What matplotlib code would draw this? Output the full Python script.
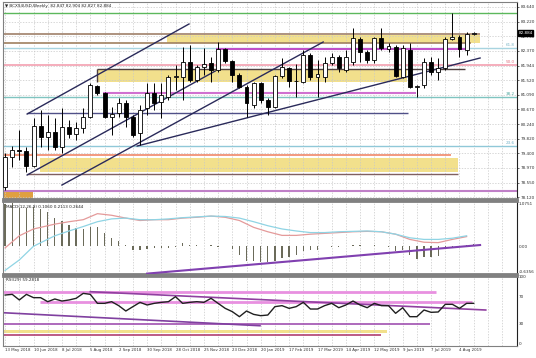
import numpy as np
import matplotlib.pyplot as plt

# weekly candles, 13 May 2018 .. 11 Aug 2019 (+ current bar)
opens = [78.41, 79.28, 79.49, 79.46, 79.02, 80.18, 79.87, 80.01, 79.57, 80.15,
         79.95, 80.12, 80.44, 81.35, 81.14, 80.44, 80.56, 80.85, 80.44, 79.98,
         80.71, 81.14, 80.88, 81.03, 81.61, 81.61, 82.04, 81.52, 81.90, 82.01,
         81.81, 82.42, 82.07, 81.66, 81.32, 80.79, 81.43, 80.94, 80.73, 81.64,
         81.87, 81.49, 81.46, 82.25, 81.61, 81.61, 82.01, 82.19, 81.81, 82.04,
         82.71, 82.33, 82.10, 82.74, 82.42, 82.48, 81.61, 82.39, 81.32, 81.37,
         82.04, 81.75, 81.87, 82.71, 82.77, 82.39, 82.847]
highs = [79.40, 79.60, 80.07, 79.57, 80.42, 80.65, 80.50, 80.42, 80.71, 80.36,
         80.30, 80.71, 81.43, 81.37, 81.17, 80.73, 81.00, 80.94, 80.50, 80.79,
         81.43, 81.43, 81.43, 81.66, 81.96, 82.48, 82.54, 81.96, 82.45, 82.19,
         82.62, 82.45, 82.10, 81.72, 81.37, 81.46, 81.46, 81.00, 81.66, 82.16,
         81.90, 81.98, 82.39, 82.30, 82.10, 82.19, 82.30, 82.25, 82.39, 83.03,
         82.77, 82.39, 82.77, 83.03, 82.59, 82.54, 82.54, 82.59, 81.37, 82.16,
         82.19, 82.16, 82.77, 83.47, 82.83, 82.91, 82.904]
lows = [78.32, 78.99, 79.20, 78.85, 78.99, 79.57, 79.49, 79.49, 79.40, 79.83,
        79.78, 79.98, 80.42, 81.08, 80.42, 79.92, 80.44, 80.15, 79.87, 79.63,
        80.50, 80.65, 80.42, 80.94, 81.23, 80.94, 81.46, 81.46, 81.66, 81.46,
        81.75, 82.01, 81.46, 81.29, 80.44, 80.71, 80.85, 80.50, 80.71, 81.58,
        81.32, 81.03, 81.43, 81.52, 81.03, 81.46, 81.96, 81.75, 81.75, 81.96,
        82.04, 82.01, 82.01, 82.39, 82.33, 81.61, 81.58, 81.29, 81.03, 81.29,
        81.66, 81.52, 81.81, 82.68, 82.19, 82.25, 82.827]
closes = [79.28, 79.49, 79.47, 79.02, 80.18, 79.87, 80.01, 79.57, 80.15, 79.95,
          80.12, 80.44, 81.37, 81.14, 80.44, 80.53, 80.85, 80.44, 79.92, 80.65,
          81.14, 80.85, 81.08, 81.61, 81.62, 82.04, 81.52, 81.90, 81.98, 81.81,
          82.42, 82.07, 81.66, 81.32, 80.85, 81.43, 80.94, 80.73, 81.64, 81.90,
          81.49, 81.50, 82.25, 81.61, 81.69, 82.01, 82.19, 81.87, 82.19, 82.74,
          82.33, 82.10, 82.74, 82.45, 82.51, 81.64, 82.45, 81.32, 81.33, 82.04,
          81.75, 81.87, 82.71, 82.77, 82.42, 82.85, 82.884]

macd_hist = [1.06, 1.07, 0.95, 0.94, 0.98, 0.92, 0.85, 0.70, 0.64, 0.53,
             0.45, 0.43, 0.49, 0.47, 0.32, 0.21, 0.14, 0.04, -0.10, -0.10,
             -0.07, -0.04, -0.04, -0.04, -0.02, 0.07, 0.02, 0.02, 0.01, 0.02,
             -0.02, 0.01, -0.07, -0.21, -0.36, -0.36, -0.38, -0.38, -0.36, -0.30,
             -0.26, -0.21, -0.13, -0.09, -0.10, 0.01, -0.02, -0.03, 0.01, 0.03,
             0.02, 0.01, 0.02, 0.01, -0.02, -0.13, -0.10, -0.21, -0.32, -0.27,
             -0.26, -0.24, -0.04, -0.02, 0.01, 0.04, 0.06]
line_weeks = [0, 2, 4, 7, 9, 11, 13, 15, 17, 19, 21, 23, 25, 27, 29, 31, 33,
              35, 37, 39, 41, 43, 45, 47, 49, 51, 53, 55, 57, 59, 61, 63, 65]
macd_red = [-0.04, 0.26, 0.43, 0.55, 0.61, 0.66, 0.81, 0.77, 0.70, 0.64, 0.66,
            0.66, 0.70, 0.72, 0.75, 0.72, 0.64, 0.47, 0.36, 0.27, 0.27, 0.30,
            0.32, 0.34, 0.36, 0.37, 0.36, 0.30, 0.17, 0.10, 0.09, 0.17, 0.24]
macd_blue = [-0.60, -0.34, 0.0, 0.26, 0.38, 0.49, 0.61, 0.68, 0.70, 0.66, 0.66,
             0.68, 0.71, 0.73, 0.75, 0.74, 0.70, 0.61, 0.51, 0.43, 0.38, 0.34,
             0.34, 0.36, 0.37, 0.38, 0.36, 0.30, 0.21, 0.17, 0.17, 0.20, 0.26]

rsi = [72.7, 73.7, 65.2, 73.7, 68.7, 68.7, 62.6, 66.7, 63.6, 65.2,
       67.7, 75.2, 73.7, 60.1, 60.1, 62.6, 56.6, 48.5, 55.1, 61.6,
       57.6, 60.1, 61.6, 62.6, 70.2, 60.1, 61.6, 62.6, 61.6, 67.7,
       60.1, 52.5, 47.5, 39.9, 48.5, 43.4, 41.4, 42.4, 55.1, 56.6,
       52.5, 55.1, 61.6, 51.5, 51.5, 56.6, 60.1, 53.5, 57.6, 63.6,
       57.6, 53.5, 60.1, 56.6, 56.6, 45.0, 53.5, 39.9, 39.9, 50.0,
       46.5, 47.0, 58.6, 58.6, 52.5, 60.1, 60.1]

price_ticks = [83.640, 83.215, 82.790, 82.365, 81.940, 81.515, 81.090,
               80.665, 80.240, 79.815, 79.390, 78.965, 78.540, 78.115]
price_labels = ['83.640', '83.220', '82.790', '82.370', '81.944', '81.520', '81.090',
                '80.670', '80.240', '79.820', '79.400', '78.970', '78.550', '78.120']
dates = ['13 May 2018', '10 Jun 2018', '8 Jul 2018', '5 Aug 2018', '2 Sep 2018',
         '30 Sep 2018', '28 Oct 2018', '25 Nov 2018', '23 Dec 2018', '20 Jan 2019',
         '17 Feb 2019', '17 Mar 2019', '14 Apr 2019', '12 May 2019', '9 Jun 2019',
         '7 Jul 2019', '4 Aug 2019']

# horizontal levels on price panel: price, start week, end week, colour, width
levels = [
    (83.465, -1, 73, '#5cb85c', 1.0),
    (82.855, -1, 66.9, '#a0806a', 1.2),
    (82.594, -1, 65.6, '#a08060', 1.2),
    (82.450, -1, 73, '#a8d4e0', 1.0),
    (82.420, 29.7, 64.8, '#c050c8', 1.5),
    (81.955, -1, 73, '#f4a0b0', 1.2),
    (81.838, 13.0, 64.8, '#504040', 1.0),
    (81.141, 13.8, 57.9, '#d070d0', 1.5),
    (81.025, -1, 73, '#7fc4c0', 1.0),
    (80.560, 3.1, 56.8, '#505088', 1.0),
    (79.601, -1, 73, '#90c8d8', 1.0),
    (79.340, -1, 62.8, '#f08868', 1.2),
    (78.788, 3.1, 63.8, '#806060', 1.0),
    (78.294, -1, 73, '#c080c8', 1.5),
]
zones = [
    (82.600, 82.830, 22.8, 66.9, '#f2e08c'),
    (81.460, 81.810, 13.0, 56.6, '#f2e08c'),
    (78.850, 79.250, 4.9, 63.8, '#f2e08c'),
    (77.900, 78.320, -1, 3.9, '#e0a040'),
]
trendlines = [
    ((3.1, 25.9), (80.531, 83.146)),
    ((3.1, 29.6), (78.759, 81.780)),
    ((8.0, 44.8), (78.468, 82.623)),
    ((18.6, 66.9), (79.601, 82.158)),
]
fib_labels = [(82.450, '61.8', '#7fb8c8'), (81.955, '50.0', '#e07080'),
              (81.025, '38.2', '#50a8a0'), (79.601, '23.6', '#70b0c8')]

W, H = 536, 358
fig = plt.figure(figsize=(W / 100, H / 100), dpi=100)
fig.patch.set_facecolor('white')


def px_axes(x0, y0, x1, y1):
    return fig.add_axes([x0 / W, 1 - y1 / H, (x1 - x0) / W, (y1 - y0) / H])


ax = px_axes(3, 2, 517, 199)
ax_macd = px_axes(3, 201, 517, 274)
ax_rsi = px_axes(3, 276, 517, 346)

xlim = (-0.3, 72.1)
grid_weeks = list(range(0, 72, 2))
tick_labels = [dates[w // 4] if w % 4 == 0 and w // 4 < len(dates) else '' for w in grid_weeks]

for a in (ax, ax_macd, ax_rsi):
    a.set_xlim(*xlim)
    a.set_xticks(grid_weeks)
    a.grid(True, axis='x', color='#c8c8c8', linestyle=(0, (2, 2)), linewidth=0.5)
    a.yaxis.tick_right()
    a.tick_params(axis='both', length=0, labelsize=3.0, pad=1.0, colors='#303030')
    for s in a.spines.values():
        s.set_color('#808080')
        s.set_linewidth(0.8)
    a.spines['right'].set_color('#202020')

ax.set_xticklabels([])
ax_macd.set_xticklabels([])
ax_rsi.set_xticklabels(tick_labels)
ax_rsi.tick_params(axis='x', labelsize=2.8, pad=1.5)
for lab in ax_rsi.get_xticklabels():
    lab.set_ha('left')

ax.spines['bottom'].set_linewidth(2)
ax_macd.spines['top'].set_linewidth(2)
ax_macd.spines['bottom'].set_linewidth(2)
ax_rsi.spines['top'].set_linewidth(2)

# ---- price panel
ax.set_ylim(78.062, 83.785)
ax.set_yticks(price_ticks)
ax.set_yticklabels(price_labels)
ax.tick_params(axis='y', length=1.5, width=0.5)
ax.grid(True, axis='y', color='#c8c8c8', linestyle=(0, (2, 2)), linewidth=0.5)

for lo, hi, w0, w1, col in zones:
    ax.fill_between([w0, w1], lo, hi, color=col, linewidth=0, zorder=1)
for p, w0, w1, col, lw in levels:
    ax.hlines(p, w0, w1, colors=col, linewidth=lw, zorder=2)
ax.vlines(13.0, 81.46, 81.838, colors='#504040', linewidth=1.0, zorder=2)
for wx, py in trendlines:
    ax.plot(wx, py, color='#2a2a5a', linewidth=1.0, zorder=2)
for p, txt, col in fib_labels:
    ax.text(71.8, p + 0.02, txt, fontsize=3.0, color=col, ha='right', va='bottom')

weeks = np.arange(len(opens))
o = np.array(opens)
c = np.array(closes)
ax.vlines(weeks, lows, highs, colors='black', linewidth=0.7, zorder=3)
body_lo = np.minimum(o, c)
body_h = np.maximum(np.abs(c - o), 0.012)
face = ['white' if cc >= oo else 'black' for oo, cc in zip(o, c)]
ax.bar(weeks, body_h, bottom=body_lo, width=0.56, color=face,
       edgecolor='black', linewidth=0.6, zorder=4)

ax.annotate('82.884', xy=(1.003, closes[-1]), xycoords=('axes fraction', 'data'),
            fontsize=3.0, color='white', va='center', ha='left',
            bbox=dict(boxstyle='square,pad=0.15', fc='black', ec='black'),
            annotation_clip=False, zorder=10)
fig.text(5 / W, 1 - 6 / H, '\u25bc BCXS4USD,Weekly  82.847 82.904 82.827 82.884',
         fontsize=3.0, color='#202020', va='center', ha='left')

# ---- MACD panel
ax_macd.set_ylim(-0.69, 1.125)
ax_macd.set_yticks([1.0751, 0.0, -0.6356])
ax_macd.set_yticklabels(['1.0751', '0.00', '-0.6356'])
ax_macd.bar(weeks, macd_hist, width=0.18, color='#6b6b5a', zorder=3)
ax_macd.plot(line_weeks, macd_red, color='#e49a9a', linewidth=0.9, zorder=4)
ax_macd.plot(line_weeks, macd_blue, color='#8fd4e4', linewidth=0.9, zorder=4)
ax_macd.plot([20.0, 66.9], [-0.68, 0.03], color='#8040b0', linewidth=1.5, zorder=5)
ax_macd.text(0.005, 0.95, 'MACD(12,26,9) 0.1060 0.2113 0.2644', transform=ax_macd.transAxes,
             fontsize=3.0, color='#202020', va='top', ha='left')

# ---- RSI panel
ax_rsi.set_ylim(-4.5, 101.5)
ax_rsi.set_yticks([100, 70, 30, 0])
ax_rsi.set_yticklabels(['100', '70', '30', '0'])
ax_rsi.fill_between([-1, 53.8], 14.7, 19.7, color='#f2e08c', linewidth=0, zorder=1)
ax_rsi.hlines(77.7, -1, 60.7, colors='#e890e0', linewidth=2.0, zorder=2)
ax_rsi.hlines(61.6, 4.9, 65.8, colors='#e890e0', linewidth=2.0, zorder=2)
ax_rsi.hlines(28.8, -1, 59.9, colors='#a050b0', linewidth=1.2, zorder=2)
ax_rsi.hlines(12.1, -1, 53.0, colors='#b04070', linewidth=1.2, zorder=2)
ax_rsi.plot([12.0, 67.7], [77.7, 50.0], color='#9040a0', linewidth=1.2, zorder=2)
ax_rsi.plot([-0.3, 35.9], [45.9, 26.2], color='#8040a0', linewidth=1.2, zorder=2)
ax_rsi.plot(weeks, rsi, color='#202020', linewidth=1.0, zorder=4)
ax_rsi.text(0.005, 0.97, 'RSI(29) 59.2818', transform=ax_rsi.transAxes,
            fontsize=3.0, color='#202020', va='top', ha='left')

fig.savefig('out.png', dpi=100)
